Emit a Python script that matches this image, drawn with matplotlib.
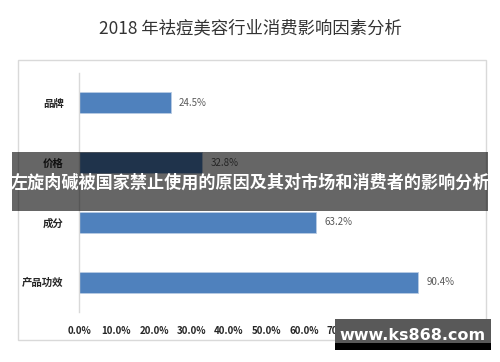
import matplotlib.pyplot as plt
from matplotlib.patches import Rectangle

plt.rcParams['font.family'] = ['Noto Sans CJK SC', 'DejaVu Sans']

# data
categories = ['品牌', '价格', '成分', '产品功效']
values = [24.5, 32.8, 63.2, 90.4]
xticks = [0, 10, 20, 30, 40, 50, 60, 70, 80, 90, 100]
title = '2018 年祛痘美容行业消费影响因素分析'
banner = '左旋肉碱被国家禁止使用的原因及其对市场和消费者的影响分析'
watermark = 'www.ks868.com'

fig = plt.figure(figsize=(5, 3.62), dpi=100)
fig.patch.set_facecolor('white')

# panel frame
fig.patches.append(Rectangle((18 / 500, 1 - 340 / 362), 468 / 500, 280 / 362,
                             transform=fig.transFigure, facecolor='white',
                             edgecolor='#d9d9d9', linewidth=1.0, zorder=-1))

fig.text(0.5, 1 - 28 / 362, title, ha='center', va='center', fontsize=12.5, color='#333333')

ax = fig.add_axes([79 / 500, 1 - 312 / 362, 375 / 500, 239 / 362])
ax.set_facecolor('none')
pos = list(range(len(categories)))
ax.barh(pos, values, height=0.35, color='#4f81bd', edgecolor='#b8cce4', linewidth=0.6, zorder=2)
for p, v in zip(pos, values):
    ax.text(v + 2.2, p, f'{v:.1f}%', va='center', ha='left', fontsize=7, color='#595959')

ax.set_xlim(0, 100)
ax.set_ylim(3.5, -0.5)
ax.set_yticks(pos)
ax.set_yticklabels(categories, fontsize=7.5, fontweight='bold', color='#262626')
ax.set_xticks(xticks)
ax.set_xticklabels([f'{t:.1f}%' for t in xticks], fontsize=7, fontweight='bold', color='#262626')
ax.tick_params(axis='both', length=0)
ax.tick_params(axis='x', pad=10)
ax.tick_params(axis='y', pad=11)
for s in ['top', 'right', 'bottom']:
    ax.spines[s].set_visible(False)
ax.spines['left'].set_color('#d9d9d9')
ax.spines['left'].set_linewidth(1.0)

# overlay banner
fig.patches.append(Rectangle((12 / 500, 1 - 211 / 362), 476 / 500, 59 / 362,
                             transform=fig.transFigure, facecolor='black', alpha=0.6,
                             edgecolor='none', zorder=10))
fig.text(0.5, 1 - 183 / 362, banner, ha='center', va='center', fontsize=12.3,
         fontweight='bold', color='white', zorder=11)

# watermark
fig.patches.append(Rectangle((335 / 500, 1 - 350 / 362), 156 / 500, 31 / 362,
                             transform=fig.transFigure, facecolor='#595959',
                             edgecolor='none', zorder=10))
fig.patches.append(Rectangle((335 / 500, 1 - 350 / 362), 156 / 500, 7 / 362,
                             transform=fig.transFigure, facecolor='black',
                             edgecolor='none', zorder=10))
fig.text(412 / 500, 1 - 335 / 362, watermark, ha='center', va='center', fontsize=11.5,
         fontweight='bold', color='white', family=['DejaVu Sans'], zorder=11)

fig.savefig('out.png', dpi=100)
